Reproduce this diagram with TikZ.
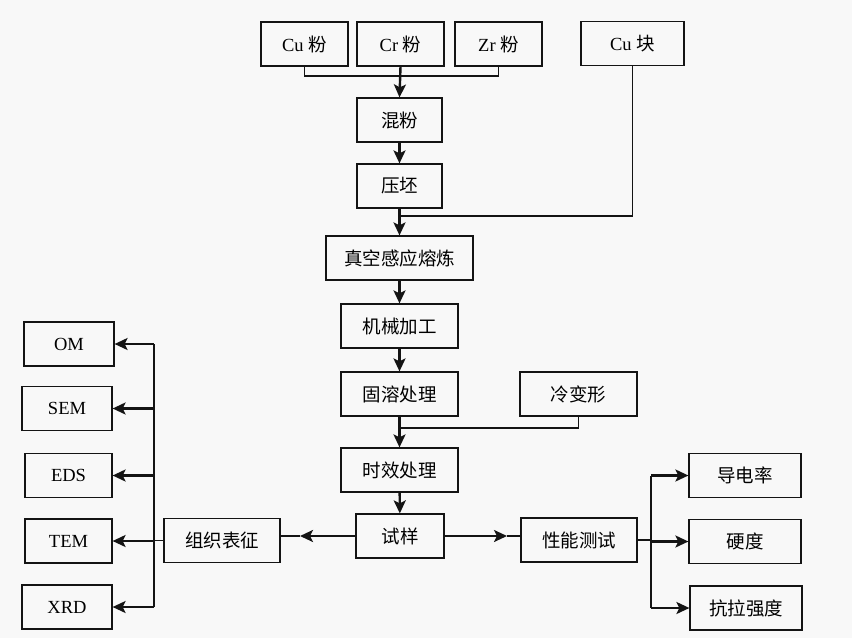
\documentclass[tikz,border=0pt]{standalone}
\usepackage{fontspec}
\setmainfont{Liberation Serif}
\newfontfamily\cjk{Noto Sans CJK SC}
\usetikzlibrary{arrows.meta,calc}
\definecolor{bgcolor}{RGB}{248,248,248}
\definecolor{inkcolor}{RGB}{20,20,20}

\begin{document}
\begin{tikzpicture}[x=1pt,y=-1pt,
  box/.style={draw=inkcolor,line width=1.2pt,inner sep=0pt,minimum height=44pt,
    font=\fontsize{18.5}{20}\selectfont},
  flow/.style={draw=inkcolor,line width=2.4pt,-{Stealth[length=13pt,width=12pt,inset=3pt]}},
  link/.style={draw=inkcolor,line width=1.6pt}]
  \fill[bgcolor] (0,0) rectangle (852,638);
  % ---- raw materials
  \node[box,minimum width=87pt]  (cup) at (304.5,44) {Cu {\cjk 粉}};
  \node[box,minimum width=87pt]  (crp) at (400.5,44) {Cr {\cjk 粉}};
  \node[box,minimum width=87pt]  (zrp) at (498.5,44) {Zr {\cjk 粉}};
  \node[box,minimum width=103pt] (cub) at (632.5,43.5) {Cu {\cjk 块}};
  % ---- main process chain
  \node[box,minimum width=85pt]  (mix)   at (399.5,120) {\cjk 混粉};
  \node[box,minimum width=85pt]  (press) at (399.5,186) {\cjk 压坯};
  \node[box,minimum width=147pt] (melt)  at (399.5,258) {\cjk 真空感应熔炼};
  \node[box,minimum width=117pt] (mach)  at (399.5,326) {\cjk 机械加工};
  \node[box,minimum width=117pt] (sol)   at (399.5,394) {\cjk 固溶处理};
  \node[box,minimum width=117pt] (cold)  at (578.5,394) {\cjk 冷变形};
  \node[box,minimum width=117pt] (age)   at (399.5,470) {\cjk 时效处理};
  \node[box,minimum width=88pt]  (spec)  at (400,536) {\cjk 试样};
  % ---- characterisation
  \node[box,minimum width=116pt] (micro) at (222,540.5) {\cjk 组织表征};
  \node[box,minimum width=90pt]  (om)    at (69,344) {OM};
  \node[box,minimum width=90pt]  (sem)   at (67,408.5) {SEM};
  \node[box,minimum width=87pt]  (eds)   at (68.5,475.5) {EDS};
  \node[box,minimum width=87pt]  (tem)   at (68.5,541) {TEM};
  \node[box,minimum width=90pt]  (xrd)   at (67,607) {XRD};
  % ---- property tests
  \node[box,minimum width=116pt] (perf)  at (579,540) {\cjk 性能测试};
  \node[box,minimum width=112pt] (cond)  at (745,475.5) {\cjk 导电率};
  \node[box,minimum width=112pt] (hard)  at (745,541.5) {\cjk 硬度};
  \node[box,minimum width=112pt] (tens)  at (746,608) {\cjk 抗拉强度};

  % ---- connectors
  \coordinate (mixbus)  at (400,76);
  \coordinate (cubus)   at (400,216);
  \coordinate (coldbus) at (400,428);
  \coordinate (lbus)    at (154,0);
  \coordinate (rbus)    at (651,0);
  \draw[link] (cup.south) -- (cup.south |- mixbus) -- (zrp.south |- mixbus) -- (zrp.south);
  \draw[flow] (crp.south) -- (mix.north);
  \draw[flow] (mix) -- (press);
  \draw[link] (cub.south) |- (cubus);
  \draw[flow] (press) -- (melt);
  \draw[flow] (melt) -- (mach);
  \draw[flow] (mach) -- (sol);
  \draw[link] (cold.south) |- (coldbus);
  \draw[flow] (sol) -- (age);
  \draw[flow] (age) -- (spec);
  \coordinate (ltip) at (300,536);
  \coordinate (rtip) at (507,536);
  \draw[flow] (spec.west) -- (ltip);
  \draw[link] (ltip) -- (micro.east |- ltip);
  \draw[flow] (spec.east) -- (rtip);
  \draw[link] (rtip) -- (perf.west |- rtip);
  \draw[link] (micro.west) -- (lbus |- micro.west);
  \draw[link] (lbus |- om) -- (lbus |- xrd);
  \foreach \n in {om,sem,eds,tem,xrd}
    \draw[flow] (lbus |- \n) -- (\n.east);
  \draw[link] (perf.east) -- (rbus |- perf.east);
  \draw[link] (rbus |- cond) -- (rbus |- tens);
  \foreach \n in {cond,hard,tens}
    \draw[flow] (rbus |- \n) -- (\n.west);
\end{tikzpicture}
\end{document}
